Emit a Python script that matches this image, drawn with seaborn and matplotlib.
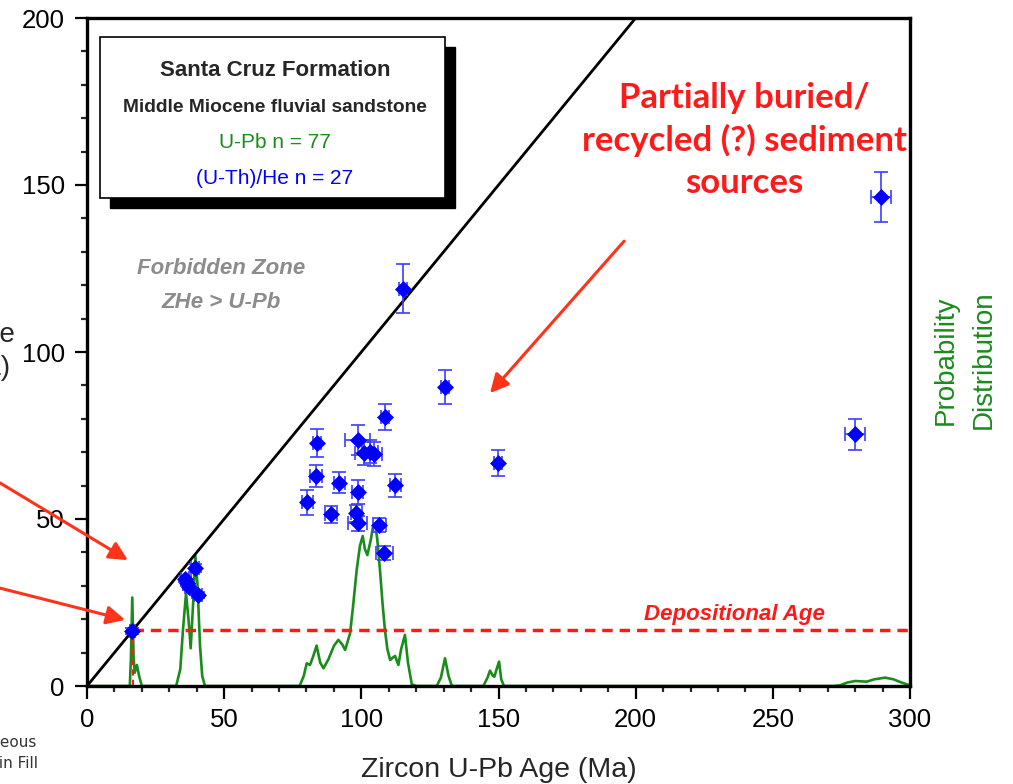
import matplotlib
matplotlib.use("Agg")
import matplotlib.pyplot as plt
import seaborn as sns
import numpy as np
from matplotlib.patches import Rectangle

# ---------------- data ----------------
# (U-Th)/He vs U-Pb zircon ages (Ma)
upb_age = [16.5, 35.7, 36.5, 37.2, 39.4, 40.5, 80.3, 83.5, 83.7, 89.0, 92.0, 98.1, 98.7, 98.7,
           98.7, 100.8, 103.2, 104.5, 106.6, 108.4, 108.7, 112.4, 115.2, 130.5, 149.8, 280.0, 289.5]
zhe_age = [16.5, 32.0, 30.8, 29.6, 35.3, 27.2, 55.0, 62.9, 72.7, 51.4, 60.9, 51.7, 58.0, 48.7,
           73.7, 69.7, 70.2, 69.5, 48.2, 39.7, 80.6, 60.1, 118.9, 89.5, 66.8, 75.4, 146.4]
upb_err = [1.0, 1.5, 1.5, 1.5, 1.5, 1.5, 2.0, 2.3, 1.5, 2.1, 2.0, 2.0, 2.0, 3.5,
           4.6, 3.0, 3.0, 3.0, 2.5, 3.1, 1.5, 2.0, 1.5, 1.5, 1.5, 3.6, 3.6]
zhe_err = [1.0, 1.0, 1.0, 1.0, 1.2, 1.0, 3.7, 3.3, 4.2, 2.5, 3.1, 2.5, 3.6, 2.3,
           4.5, 3.5, 3.5, 3.5, 2.1, 2.1, 3.9, 3.5, 7.3, 5.1, 4.0, 4.6, 7.6]

# U-Pb probability distribution (arbitrary units)
pdf_age = [0, 15.6, 16.0, 16.5, 17.0, 17.4, 18.2, 19.0, 20.0,
           32.5, 34.0, 35.0, 36.1, 37.0, 37.8, 38.7, 39.5, 40.3, 41.2, 42.0, 43.0,
           77.5, 79.0, 80.1, 81.3, 82.5, 83.7, 85.0, 86.2, 88.0, 90.0, 91.6, 93.0, 94.1,
           95.9, 97.0, 98.3, 99.5, 100.5, 101.3, 102.2, 103.5, 104.3, 105.0, 105.8, 106.8,
           107.7, 108.6, 109.5, 110.5, 111.5, 112.3, 113.5, 114.5, 115.9, 117.0, 118.4, 120.2,
           127.5, 129.0, 130.5, 131.8, 133.0,
           144.5, 146.0, 146.9, 148.0, 148.5, 149.3, 150.2, 151.0, 152.0,
           272.0, 274.5, 277.0, 280.0, 282.0, 284.2, 287.0, 290.9, 294.0, 297.0, 300.0]
pdf_val = [0, 0, 8.0, 26.5, 8.0, 4.0, 6.3, 3.0, 0,
           0, 5.0, 17.0, 27.7, 20.0, 11.3, 25.0, 39.0, 30.0, 12.0, 3.0, 0,
           0, 3.0, 6.8, 6.3, 9.0, 12.1, 7.0, 5.3, 8.0, 12.0, 13.8, 12.5, 10.8,
           15.8, 24.0, 34.7, 42.0, 44.9, 41.0, 39.2, 44.0, 48.0, 48.7, 44.0, 34.7,
           25.0, 16.8, 11.0, 7.8, 8.5, 9.0, 6.3, 11.0, 15.3, 7.0, 0.5, 0,
           0, 2.5, 8.3, 3.0, 0,
           0, 2.5, 4.6, 3.0, 2.8, 5.0, 7.3, 2.0, 0,
           0, 0.2, 1.0, 1.5, 1.4, 1.3, 2.0, 2.5, 2.0, 1.0, 0.2]

depo_age = 16.8
x_ticks = [0, 50, 100, 150, 200, 250, 300]
y_ticks = [0, 50, 100, 150, 200]

# ---------------- style ----------------
sns.set_theme(style="ticks")
plt.rcParams['font.family'] = ['Liberation Sans', 'DejaVu Sans']

GREEN = "#1a8c1a"
BLUE = "#0000ff"
RED = "#ff1a1a"
ARROW_RED = "#ff3319"

fig = plt.figure(figsize=(10.13, 7.84), dpi=100)
ax = fig.add_axes([87/1013, 1 - 686/784, 823/1013, 668/784])
ax2 = ax.twinx()

# probability distribution on secondary axis
sns.lineplot(x=pdf_age, y=pdf_val, ax=ax2, color=GREEN, lw=1.9, estimator=None, sort=False)
ax2.set_ylim(0, 200)
ax2.set_yticks([])
ax2.set_ylabel("Probability\nDistribution", color=GREEN, fontsize=20, linespacing=1.6)
ax2.yaxis.label.set_rotation_mode("default")
ax2.yaxis.label.set_horizontalalignment("center")
ax2.yaxis.label.set_verticalalignment("center")
ax2.yaxis.set_label_coords((965 - 87) / 823, (686 - 360) / 668)
for s in ax2.spines.values():
    s.set_visible(False)

ax.set_zorder(ax2.get_zorder() + 1)
ax.patch.set_visible(False)

# 1:1 line
ax.axline((0, 0), slope=1, color="black", lw=2, zorder=2)

# depositional age
ax.hlines(depo_age, depo_age, 300, colors=RED, lw=2.5, linestyles=(0, (3, 2)), zorder=2)
ax.vlines(depo_age, 0, depo_age, colors=RED, lw=1.5, linestyles=(0, (3, 2)), zorder=2)

# error bars + points
ax.errorbar(upb_age, zhe_age, xerr=upb_err, yerr=zhe_err, fmt="none",
            ecolor="#3d3dff", elinewidth=1.2, capsize=4.7, capthick=1.2, zorder=3)
sns.scatterplot(x=upb_age, y=zhe_age, ax=ax, marker="D", s=66, color=BLUE,
                edgecolor=BLUE, linewidth=0.5, zorder=4)

ax.set_xlim(0, 300)
ax.set_ylim(0, 200)
ax.set_xticks(x_ticks)
ax.set_yticks(y_ticks)
ax.set_xticks(np.arange(0, 301, 10), minor=True)
ax.set_yticks(np.arange(0, 201, 10), minor=True)
ax.tick_params(which="major", direction="out", length=9, width=1.6, labelsize=18.5, pad=7,
               colors="black")
ax.tick_params(which="minor", direction="out", length=4.5, width=1.6)
ax.tick_params(axis="y", which="both", right=False)
ax.tick_params(axis="x", which="both", top=False)
for s in ax.spines.values():
    s.set_visible(True)
    s.set_linewidth(2.4)
    s.set_color("black")

ax.set_xlabel("Zircon U-Pb Age (Ma)", fontsize=20.5, labelpad=18)
ax.set_ylabel("")

# ---------------- annotations ----------------
# info box with shadow
bx0, bx1 = (100 - 87) / 823, (445 - 87) / 823
by1, by0 = (686 - 37) / 668, (686 - 198) / 668
sh = 10 / 823, 10 / 668
ax.add_patch(Rectangle((bx0 + sh[0], by0 - sh[1]), bx1 - bx0, by1 - by0, transform=ax.transAxes,
                       facecolor="black", edgecolor="black", zorder=5, clip_on=False))
ax.add_patch(Rectangle((bx0, by0), bx1 - bx0, by1 - by0, transform=ax.transAxes,
                       facecolor="white", edgecolor="black", lw=1.2, zorder=6, clip_on=False))
cx = (275 - 87) / 823
def ytop(py):
    return (686 - py) / 668
ax.text(cx, ytop(71), "Santa Cruz Formation", transform=ax.transAxes, ha="center", va="center",
        fontsize=16, fontweight="bold", zorder=7)
ax.text(cx, ytop(108), "Middle Miocene fluvial sandstone", transform=ax.transAxes, ha="center",
        va="center", fontsize=13.8, fontweight="bold", zorder=7)
ax.text(cx, ytop(143), "U-Pb n = 77", transform=ax.transAxes, ha="center", va="center",
        fontsize=15, color=GREEN, zorder=7)
ax.text(cx, ytop(179), "(U-Th)/He n = 27", transform=ax.transAxes, ha="center", va="center",
        fontsize=15, color=BLUE, zorder=7)

# forbidden zone
ax.text(48.9, 125.0, "Forbidden Zone", ha="center", va="center", fontsize=16,
        fontweight="bold", fontstyle="italic", color="#8c8c8c")
ax.text(48.9, 114.8, "ZHe > U-Pb", ha="center", va="center", fontsize=16,
        fontweight="bold", fontstyle="italic", color="#8c8c8c")

# depositional age label
ax.text(235.9, 21.3, "Depositional Age", ha="center", va="center", fontsize=16,
        fontweight="bold", fontstyle="italic", color=RED)

# red headline
ax.text(239.5, 163.3, "Partially buried/\nrecycled (?) sediment\nsources", ha="center",
        va="center", fontsize=25, fontweight="bold", color=RED, family=["Lato", "DejaVu Sans"],
        linespacing=1.36)

# arrows
arrow_kw = dict(arrowstyle="-|>", mutation_scale=28, lw=2.2, color=ARROW_RED, shrinkA=0, shrinkB=0)
ax.annotate("", xy=(146.9, 87.7), xytext=(195.8, 133.2), arrowprops=arrow_kw)
ax.annotate("", xy=(14.9, 37.7), xytext=(-31.7, 60.8), arrowprops=arrow_kw,
            annotation_clip=False)
ax.annotate("", xy=(13.9, 19.8), xytext=(-31.7, 29.3), arrowprops=arrow_kw,
            annotation_clip=False)

# cut-off slide text on the left
fig.text(15 / 1013, 1 - 335 / 784, "ZHe Age", ha="right", va="center", fontsize=20)
fig.text(10 / 1013, 1 - 368 / 784, "(Ma)", ha="right", va="center", fontsize=20)
fig.text(37 / 1013, 1 - 742 / 784, "Igneous", ha="right", va="center", fontsize=11,
         color="#333333", family=["DejaVu Sans"])
fig.text(38 / 1013, 1 - 763 / 784, "Basin Fill", ha="right", va="center", fontsize=11,
         color="#333333", family=["DejaVu Sans"])

fig.savefig("out.png", dpi=100)
